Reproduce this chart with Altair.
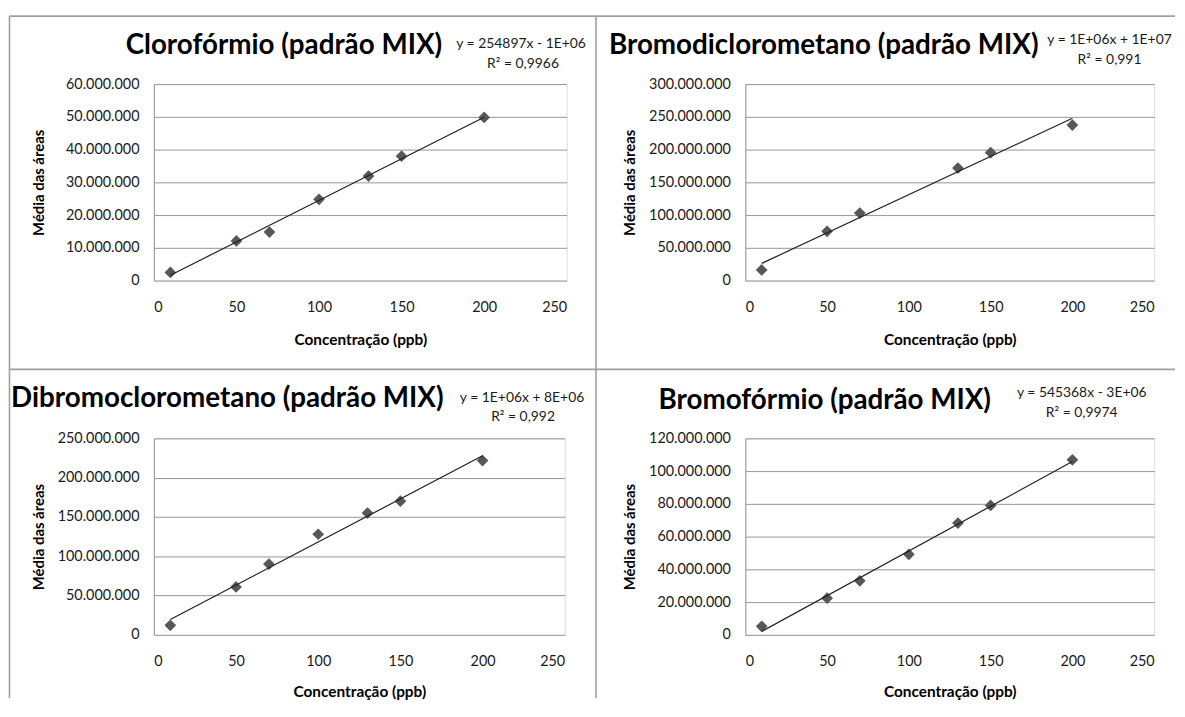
import altair as alt
import pandas as pd

# ---------------- data ----------------
conc_clo = [10, 50, 70, 100, 130, 150, 200]
area_clo = [2.5e6, 12.1e6, 14.8e6, 24.8e6, 31.9e6, 38.0e6, 49.8e6]

conc_bdcm = [10, 50, 70, 130, 150, 200]
area_bdcm = [16.2e6, 75.3e6, 103.0e6, 171.7e6, 195.5e6, 237.4e6]

conc_dbcm = [10, 50, 70, 100, 130, 150, 200]
area_dbcm = [12.2e6, 61.0e6, 90.0e6, 128.0e6, 155.0e6, 170.0e6, 221.8e6]

conc_bro = [10, 50, 70, 100, 130, 150, 200]
area_bro = [5.2e6, 22.4e6, 33.0e6, 49.2e6, 68.3e6, 79.0e6, 106.9e6]

titles = ["Clorofórmio (padrão MIX)", "Bromodiclorometano (padrão MIX)",
          "Dibromoclorometano (padrão MIX)", "Bromofórmio (padrão MIX)"]
equations = ["y = 254897x - 1E+06", "y = 1E+06x + 1E+07",
             "y = 1E+06x + 8E+06", "y = 545368x - 3E+06"]
r2_labels = ["R² = 0,9966", "R² = 0,991", "R² = 0,992", "R² = 0,9974"]

x_ticks = [0, 50, 100, 150, 200, 250]
y_ticks_clo = [0, 10e6, 20e6, 30e6, 40e6, 50e6, 60e6]
y_ticks_bdcm = [0, 50e6, 100e6, 150e6, 200e6, 250e6, 300e6]
y_ticks_dbcm = [0, 50e6, 100e6, 150e6, 200e6, 250e6]
y_ticks_bro = [0, 20e6, 40e6, 60e6, 80e6, 100e6, 120e6]

x_title = "Concentração (ppb)"
y_title = "Média das áreas"

# ---------------- styling ----------------
FONT = "Lato"
GRID = "#969696"
BORDER = "#a0a0a0"
TXT = "#1a1a1a"


def text_layer(s, x, y, size, weight="normal"):
    return alt.Chart(pd.DataFrame({"t": [s]})).mark_text(
        font=FONT, fontSize=size, fontWeight=weight,
        color="black" if weight == "bold" else TXT,
        align="center", baseline="middle"
    ).encode(text="t:N", x=alt.value(x), y=alt.value(y))


def seg(x1, y1, x2, y2):
    base = alt.Chart(pd.DataFrame({"k": [0]})).mark_rule(color=BORDER, strokeWidth=1.6)
    if x1 == x2:
        return base.encode(x=alt.value(x1), y=alt.value(y1), y2=alt.value(y2))
    return base.encode(x=alt.value(x1), x2=alt.value(x2), y=alt.value(y1))


def panel(conc, area, i, yticks, w, h, g):
    df = pd.DataFrame({"c": conc, "a": area})
    base = alt.Chart(df).encode(
        x=alt.X("c:Q", scale=alt.Scale(domain=[0, 250], nice=False, zero=False),
                axis=alt.Axis(values=x_ticks, grid=False, domain=False, ticks=False,
                              labelPadding=20, labelFontSize=14.5, labelColor=TXT,
                              labelFont=FONT, title=x_title, titleFont=FONT,
                              titleFontSize=15.5, titleFontWeight="bold", titleColor="black",
                              titleY=g["xt"], titleBaseline="middle")),
        y=alt.Y("a:Q", scale=alt.Scale(domain=[yticks[0], yticks[-1]], nice=False),
                axis=alt.Axis(values=yticks, format=",d", grid=True, gridColor=GRID,
                              gridWidth=1, domain=True, domainColor=GRID, domainWidth=1,
                              ticks=False, labelPadding=15, labelFontSize=14.5,
                              labelColor=TXT, labelFont=FONT, title=y_title,
                              titleFont=FONT, titleFontSize=15, titleFontWeight="bold",
                              titleColor="black", titleX=g["yt"], titleY=h / 2,
                              titleAngle=-90, titleBaseline="middle", titleAlign="center")),
    )
    pts = base.mark_point(shape="diamond", filled=True, size=140, color="#575757", opacity=1)
    line = base.transform_regression("c", "a").mark_line(color="#1f1f1f", strokeWidth=1.2)
    layers = [seg(*s) for s in g["segs"]]
    layers += [
        pts, line,
        text_layer(titles[i], g["title"][0], g["title"][1], 28, "bold"),
        text_layer(equations[i], g["eq"][0], g["eq"][1], 14),
        text_layer(r2_labels[i], g["r2"][0], g["r2"][1], 14),
    ]
    return alt.layer(*layers).properties(width=w, height=h)


# panel frame lines, relative to each plot's top-left corner
geo1 = {"segs": [(-145.5, -68.5, 1029, -68.5),      # top frame line
                 (-145.5, -68.5, -145.5, 619),       # left frame line
                 (445.5, -68.5, 445.5, 619)],        # middle vertical frame line
        "title": (131, -38), "eq": (370, -40), "r2": (372, -20), "yt": -116, "xt": 59}
geo2 = {"segs": [],
        "title": (79, -38), "eq": (367, -44), "r2": (367, -24), "yt": -117, "xt": 59}
geo3 = {"segs": [(-145.5, -69.5, 1029, -69.5)],    # middle horizontal frame line
        "title": (74, -40), "eq": (371, -41), "r2": (372, -21), "yt": -116, "xt": 57}
geo4 = {"segs": [],
        "title": (80, -38), "eq": (339, -46), "r2": (339, -26), "yt": -117, "xt": 57}

p1 = panel(conc_clo, area_clo, 0, y_ticks_clo, 416, 198, geo1)
p2 = panel(conc_bdcm, area_bdcm, 1, y_ticks_bdcm, 412, 198, geo2)
p3 = panel(conc_dbcm, area_dbcm, 2, y_ticks_dbcm, 414, 198, geo3)
p4 = panel(conc_bro, area_bro, 3, y_ticks_bro, 412, 198, geo4)

chart = alt.concat(p1, p2, p3, p4, columns=2,
                   spacing={"row": 159, "column": 180}).properties(
    bounds="flush",
    padding={"left": 0, "top": 4, "right": 0, "bottom": 0},
    background="white",
).configure_view(stroke="transparent").configure(
    locale={"number": {"decimal": ",", "thousands": ".", "grouping": [3], "currency": ["", ""]}}
)

chart.save("out.html", embed_options={"renderer": "svg", "actions": False})
